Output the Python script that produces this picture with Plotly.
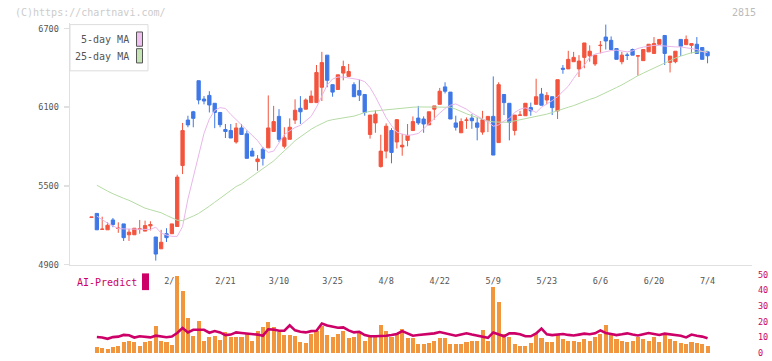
import plotly.graph_objects as go

W, H = 772, 361

# ---------------- data ----------------
opens = [5260, 5290, 5168, 5165, 5240, 5175, 5210, 5127, 5127, 5170,
         5155, 5195, 5110, 5020, 5135, 5135, 5190, 5655, 6002, 6065,
         6302, 6162, 6190, 6130, 6060, 5930, 5922, 5835, 5942, 5897,
         5765, 5685, 5780, 5790, 5915, 6030, 5802, 5855, 6002, 6092,
         6085, 6135, 6135, 6252, 6497, 6272, 6235, 6360, 6335, 6272,
         6227, 6197, 5892, 5980, 5647, 5765, 5922, 5835, 5797, 5847,
         5922, 6017, 6010, 5965, 6085, 6122, 6255, 6215, 5980, 5905,
         6000, 6017, 5980, 5910, 5997, 6030, 5830, 6197, 6130, 5922,
         6038, 6035, 6097, 6122, 6200, 6155, 6180, 6072, 6397, 6392,
         6447, 6392, 6480, 6492, 6430, 6570, 6635, 6610, 6547, 6447,
         6498, 6540, 6490, 6455, 6522, 6510, 6580, 6647, 6442, 6447,
         6617, 6577, 6572, 6580, 6555, 6522]
highs = [5262, 5290, 5265, 5222, 5255, 5222, 5210, 5172, 5177, 5240,
         5235, 5230, 5110, 5165, 5177, 5210, 5585, 5980, 6035, 6072,
         6302, 6185, 6222, 6130, 6060, 5972, 5972, 5980, 5972, 5922,
         5790, 5735, 5797, 6190, 6110, 6085, 5947, 6015, 6160, 6185,
         6167, 6227, 6422, 6522, 6497, 6272, 6347, 6455, 6430, 6290,
         6310, 6197, 6040, 6077, 5890, 5977, 5940, 6010, 5897, 5972,
         6030, 6110, 6030, 6065, 6110, 6247, 6290, 6215, 6035, 6015,
         6022, 6047, 6022, 6072, 6030, 6335, 6290, 6197, 6130, 6040,
         6072, 6130, 6135, 6317, 6247, 6215, 6180, 6310, 6422, 6530,
         6522, 6497, 6590, 6572, 6497, 6605, 6730, 6640, 6547, 6522,
         6515, 6547, 6492, 6540, 6580, 6635, 6617, 6647, 6490, 6527,
         6617, 6647, 6585, 6635, 6555, 6522]
lows = [5260, 5165, 5165, 5165, 5185, 5142, 5080, 5080, 5127, 5135,
        5155, 5160, 4930, 5020, 5072, 5135, 5190, 5590, 5947, 5947,
        6122, 6122, 6060, 5940, 5947, 5865, 5865, 5822, 5892, 5710,
        5727, 5615, 5655, 5790, 5915, 5835, 5785, 5855, 5972, 5972,
        6085, 6135, 6135, 6147, 6252, 6180, 6235, 6305, 6335, 6180,
        6147, 6035, 5860, 5905, 5640, 5710, 5672, 5785, 5730, 5802,
        5922, 5965, 5905, 5965, 6005, 6122, 6205, 6010, 5922, 5905,
        5935, 5935, 5847, 5890, 5910, 5735, 5830, 6040, 5847, 5885,
        6038, 6035, 6035, 6122, 6115, 6122, 6040, 6010, 6355, 6392,
        6447, 6330, 6397, 6447, 6415, 6510, 6540, 6540, 6465, 6427,
        6460, 6497, 6340, 6455, 6522, 6510, 6580, 6422, 6365, 6435,
        6490, 6577, 6510, 6510, 6465, 6435]
closes = [5262, 5165, 5170, 5200, 5205, 5177, 5105, 5147, 5177, 5172,
          5197, 5205, 4980, 5070, 5105, 5210, 5567, 5922, 5965, 6015,
          6155, 6147, 6117, 6060, 5967, 5915, 5865, 5942, 5892, 5710,
          5727, 5705, 5710, 5942, 5990, 5855, 5867, 5947, 6077, 6065,
          6155, 6185, 6365, 6440, 6305, 6215, 6347, 6410, 6372, 6180,
          6192, 6060, 6040, 6047, 5765, 5955, 5755, 6005, 5810, 5885,
          5990, 5980, 5972, 6065, 6110, 6222, 6222, 6010, 5947, 5990,
          6002, 5997, 5947, 6005, 6030, 5735, 6272, 6135, 5985, 6040,
          6040, 6130, 6072, 6180, 6115, 6190, 6097, 6310, 6390, 6465,
          6480, 6452, 6590, 6527, 6497, 6572, 6605, 6540, 6465, 6497,
          6496, 6497, 6492, 6540, 6580, 6585, 6617, 6510, 6490, 6527,
          6565, 6617, 6585, 6510, 6465, 6492]

ma5 = [None, 5270, 5240, 5215, 5195, 5175, 5172, 5172, 5172, 5170,
       5168, 5167, 5185, 5140, 5125, 5115, 5115, 5190, 5400, 5560,
       5730, 5900, 6010, 6075, 6097, 6090, 6045, 6005, 5960, 5922,
       5880, 5845, 5790, 5755, 5765, 5830, 5890, 5920, 5945, 5962,
       5995, 6030, 6100, 6190, 6270, 6315, 6330, 6330, 6322, 6315,
       6310, 6295, 6250, 6180, 6100, 6020, 5960, 5910, 5895, 5885,
       5890, 5900, 5935, 5975, 6020, 6055, 6090, 6115, 6125, 6105,
       6085, 6055, 6030, 6010, 5990, 5955, 5965, 5995, 6015, 6060,
       6085, 6095, 6080, 6060, 6100, 6122, 6150, 6180, 6220, 6260,
       6320, 6375, 6420, 6480, 6505, 6515, 6525, 6532, 6535, 6528,
       6522, 6530, 6548, 6558, 6565, 6572, 6570, 6565, 6562, 6560,
       6560, 6555, 6548, 6540, 6525, 6515]
ma25 = [None, 5505, 5480, 5460, 5440, 5420, 5405, 5390, 5370, 5350,
        5330, 5318, 5305, 5295, 5275, 5255, 5238, 5235, 5250, 5270,
        5290, 5315, 5345, 5375, 5405, 5440, 5470, 5495, 5515, 5545,
        5575, 5600, 5630, 5660, 5690, 5730, 5765, 5805, 5845, 5875,
        5905, 5932, 5955, 5975, 5995, 6005, 6012, 6018, 6025, 6032,
        6045, 6060, 6068, 6072, 6077, 6083, 6088, 6092, 6095, 6098,
        6100, 6102, 6102, 6102, 6102, 6103, 6103, 6100, 6085, 6065,
        6050, 6035, 6020, 6005, 5995, 5988, 5985, 5985, 5987, 5995,
        6005, 6012, 6020, 6030, 6040, 6047, 6060, 6075, 6085, 6100,
        6112, 6130, 6145, 6160, 6172, 6190, 6210, 6230, 6250, 6270,
        6295, 6320, 6340, 6360, 6380, 6400, 6420, 6440, 6460, 6475,
        6490, 6505, 6515, 6520, 6525, 6530]

ai_bars = [None, 3.8, 3.1, 2.3, 3.8, 4.8, 7.3, 7.9, 6.9, 4.8,
           6.9, 7.9, 17.3, 7.9, 6.9, 5.3, 49.5, 40, 22.1, 10.6,
           20.4, 7.9, 10, 10.6, 8.5, 13.6, 10, 10.4, 10.4, 12.1,
           7.9, 14.3, 16.4, 19.9, 16.8, 13.6, 11.8, 11.8, 11.1, 7.3,
           6.5, 12.2, 14.3, 17.4, 11.8, 10.5, 12.4, 14.3, 9.4, 10,
           12.6, 7.9, 10.5, 10.5, 18, 14.3, 10.5, 12.6, 15.7, 9.4,
           9.4, 5.9, 5.5, 6.3, 7.9, 9.4, 9.4, 5.5, 5.9, 5.5,
           7.3, 7.9, 7.9, 14.9, 7.9, 42, 32.5, 12.2, 10.5, 5.5,
           4.2, 4.8, 6.5, 12.6, 9.4, 7.3, 7, 12, 9, 8,
           8, 7, 9, 8, 10, 12, 18, 13, 9, 8,
           7, 8, 10, 9, 8, 10, 7, 12, 9, 8,
           6.5, 5.9, 7.3, 6.3, 5.5, 4.4]
ai_line = [None, 10.3, 10.0, 9.1, 10.2, 10.5, 11.6, 11.4, 9.9, 10.7,
           10.2, 10.0, 11.1, 10.7, 10.1, 10.6, 12.8, 16.0, 13.2, 14.9,
           14.9, 14.9, 13.0, 14.1, 13.2, 11.5, 11.8, 13.2, 12.8, 12.6,
           12.2, 11.8, 11.1, 15.2, 15.0, 14.3, 14.3, 17.8, 14.5, 13.6,
           13.2, 14.0, 14.3, 18.9, 17.6, 16.8, 16.2, 16.4, 14.5, 13.2,
           13.6, 11.5, 10.7, 10.7, 10.7, 11.1, 11.6, 12.2, 14.0, 12.6,
           11.1, 11.5, 11.8, 12.0, 12.6, 13.4, 12.5, 11.8, 11.1, 11.9,
           12.6, 11.8, 11.1, 10.3, 9.7, 13.2, 12.0, 10.7, 12.6, 12.6,
           12.0, 10.7, 10.7, 12.5, 15.7, 12.0, 11.5, 11.8, 12.2, 11.6,
           11.2, 11.8, 12.4, 12.0, 12.6, 14.5, 12.8, 12.2, 11.5, 12.0,
           12.6, 11.8, 11.2, 12.0, 12.8, 12.2, 11.6, 12.4, 11.8, 11.4,
           11.1, 10.0, 11.8, 11.0, 10.5, 9.4]

tick_pos = [15, 25, 35, 45, 55, 65, 75, 85, 95, 105, 115]
tick_text = ["2/1", "2/21", "3/10", "3/25", "4/8", "4/22", "5/9", "5/23", "6/6", "6/20", "7/4"]
price_ticks = [4900, 5500, 6100, 6700]
ai_ticks = [0, 10, 20, 30, 40, 50]

idx = list(range(len(closes)))

# ---------------- styling ----------------
FONT = "DejaVu Sans Mono"
RED = "#f3543e"
BLUE = "#3f78e6"
AXIS = "#e0e0e0"
MAG = "#cc0066"

def px(x):
    return x / W

def py(y):
    return 1 - y / H

x_dom = [px(70), px(752)]
x_rng = [(70 - 91.5) / 5.357, (752 - 91.5) / 5.357]

fig = go.Figure()

fig.add_trace(go.Candlestick(
    x=idx, open=opens, high=highs, low=lows, close=closes,
    increasing=dict(line=dict(color=RED, width=1), fillcolor=RED),
    decreasing=dict(line=dict(color=BLUE, width=1), fillcolor=BLUE),
    whiskerwidth=0, xaxis="x", yaxis="y", showlegend=False, hoverinfo="skip",
))
fig.add_trace(go.Scatter(x=idx, y=ma25, mode="lines", line=dict(color="#b5dba4", width=1),
                         xaxis="x", yaxis="y", showlegend=False, hoverinfo="skip"))
fig.add_trace(go.Scatter(x=idx, y=ma5, mode="lines", line=dict(color="#e9b6ea", width=1),
                         xaxis="x", yaxis="y", showlegend=False, hoverinfo="skip"))

fig.add_trace(go.Bar(x=idx, y=ai_bars, marker=dict(color="#f2963e", line=dict(width=0)), width=0.76,
                     xaxis="x4", yaxis="y2", showlegend=False, hoverinfo="skip"))
fig.add_trace(go.Scatter(x=idx, y=ai_line, mode="lines", line=dict(color=MAG, width=2.6),
                         xaxis="x4", yaxis="y2", showlegend=False, hoverinfo="skip"))

ylo = 4900
yhi = 4900 + (268 - 22) * 7.5

fig.update_layout(
    width=W, height=H, autosize=False, margin=dict(l=0, r=0, t=0, b=0),
    paper_bgcolor="white", plot_bgcolor="white",
    boxgap=0.12, bargap=0,
    font=dict(family=FONT, color="#555", size=9),
    xaxis=dict(domain=x_dom, range=x_rng, anchor="y", showgrid=False, zeroline=False,
               showline=True, linecolor=AXIS, linewidth=1.5,
               tickvals=tick_pos, ticktext=tick_text, ticks="",
               tickfont=dict(family=FONT, size=8.5, color="#555"),
               ticklabelstandoff=8, rangeslider=dict(visible=False), fixedrange=True),
    xaxis2=dict(domain=x_dom, range=[0, 11], overlaying="x", anchor="y", side="bottom",
                tickvals=list(range(12)), ticks="outside", ticklen=4, tickwidth=1.5,
                tickcolor=AXIS, showticklabels=False, showgrid=False, zeroline=False,
                showline=False),
    xaxis3=dict(domain=x_dom, range=[0, 11], overlaying="x", anchor="y", side="bottom",
                tickvals=list(range(12)), ticks="inside", ticklen=4, tickwidth=1.5,
                tickcolor=AXIS, showticklabels=False, showgrid=False, zeroline=False,
                showline=False),
    yaxis=dict(domain=[py(268), py(22)], range=[ylo, yhi], anchor="x", showgrid=False,
               zeroline=False, showline=True, linecolor=AXIS, linewidth=1.5,
               tickvals=price_ticks, ticks="outside", ticklen=5, tickcolor=AXIS, tickwidth=1.5,
               tickfont=dict(family=FONT, size=8.5, color="#555"), ticklabelstandoff=3),
    xaxis4=dict(domain=x_dom, range=x_rng, anchor="y2", visible=False),
    yaxis2=dict(domain=[py(358), py(274)], range=[0, (358 - 274) / 1.59], anchor="x4",
                side="right", showgrid=False, zeroline=False, showline=False,
                tickvals=ai_ticks, ticks="", ticklabelstandoff=5,
                tickfont=dict(family=FONT, size=8.5, color=MAG)),
)

shapes = [
    dict(type="rect", xref="paper", yref="paper", x0=px(70), x1=px(148), y0=py(71), y1=py(24),
         line=dict(color="#dddddd", width=1), fillcolor="white", layer="above"),
    dict(type="rect", xref="paper", yref="paper", x0=px(136.5), x1=px(142.5), y0=py(46), y1=py(31.5),
         line=dict(color="#555", width=1), fillcolor="#f0c0f0", layer="above"),
    dict(type="rect", xref="paper", yref="paper", x0=px(136.5), x1=px(142.5), y0=py(63), y1=py(48.5),
         line=dict(color="#555", width=1), fillcolor="#c4e4b4", layer="above"),
    dict(type="rect", xref="paper", yref="paper", x0=px(142), x1=px(149), y0=py(294), y1=py(277),
         line=dict(width=0), fillcolor=MAG, layer="above"),
]

annotations = [
    dict(text="(C)https://chartnavi.com/", xref="paper", yref="paper", x=px(13), y=py(12),
         xanchor="left", yanchor="middle", showarrow=False,
         font=dict(family=FONT, size=10, color="#cccccc")),
    dict(text="2815", xref="paper", yref="paper", x=px(758), y=py(12),
         xanchor="right", yanchor="middle", showarrow=False,
         font=dict(family=FONT, size=10, color="#bbbbbb")),
    dict(text="5-day MA", xref="paper", yref="paper", x=px(131), y=py(39),
         xanchor="right", yanchor="middle", showarrow=False,
         font=dict(family=FONT, size=10, color="#555")),
    dict(text="25-day MA", xref="paper", yref="paper", x=px(131), y=py(56),
         xanchor="right", yanchor="middle", showarrow=False,
         font=dict(family=FONT, size=10, color="#555")),
    dict(text="AI-Predict", xref="paper", yref="paper", x=px(75), y=py(286),
         xanchor="left", yanchor="middle", showarrow=False,
         font=dict(family=FONT, size=10, color=MAG)),
]

fig.update_layout(shapes=shapes, annotations=annotations)
fig.write_html("out.html",
               config={"displayModeBar": False, "staticPlot": True, "responsive": False},
               post_script="document.body.style.margin='0';document.body.style.overflow='hidden';")
